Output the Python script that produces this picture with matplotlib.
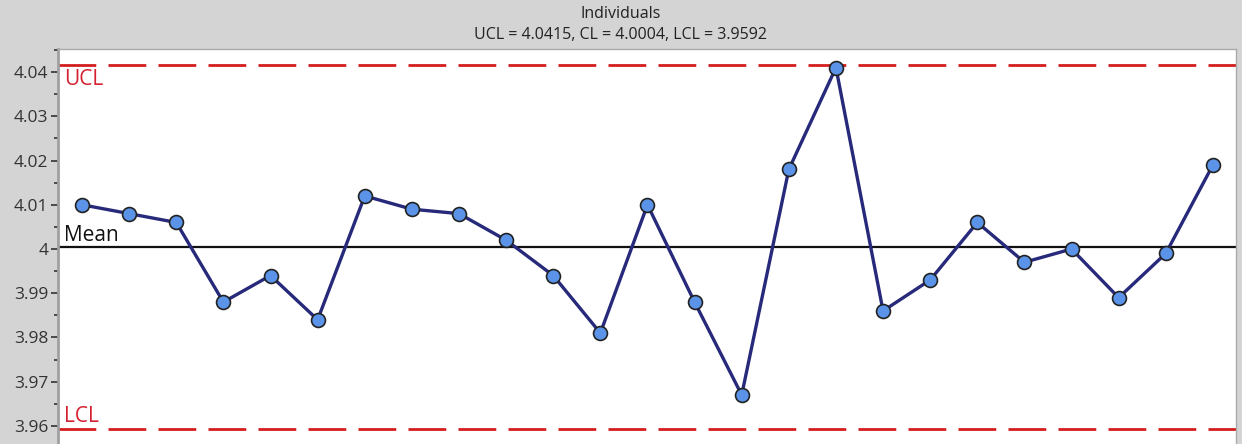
import numpy as np
import matplotlib.pyplot as plt
from matplotlib.ticker import MultipleLocator, FuncFormatter

# Individuals chart data
sample = list(range(1, 26))
values = [4.010, 4.008, 4.006, 3.988, 3.994, 3.984, 4.012, 4.009, 4.008, 4.002,
          3.994, 3.981, 4.010, 3.988, 3.967, 4.018, 4.041, 3.986, 3.993, 4.006,
          3.997, 4.000, 3.989, 3.999, 4.019]
ucl = 4.0415
cl = 4.0004
lcl = 3.9592

plt.rcParams['font.family'] = ['Open Sans', 'DejaVu Sans']

bg = '#d4d4d4'
fig = plt.figure(figsize=(12.42, 4.44), dpi=100, facecolor=bg)
ax = fig.add_axes([58 / 1242, -10 / 444, (1236 - 58) / 1242, (444 - 49 + 10) / 444])
ax.set_facecolor('white')

# control limits
ax.axhline(ucl, color='#d41e1e', lw=2.0, dashes=(13.6, 4.4))
ax.axhline(lcl, color='#d41e1e', lw=2.0, dashes=(13.6, 4.4))
ax.axhline(cl, color='#111111', lw=1.6)

ax.plot(sample, values, color='#27297a', lw=2.4, marker='o', markersize=10,
        markerfacecolor='#5b93e8', markeredgecolor='#222222', markeredgewidth=1.2,
        zorder=5)

ax.text(0.005, ucl - 0.0007, 'UCL', color='#d42030', fontsize=15,
        ha='left', va='top', transform=ax.get_yaxis_transform())
ax.text(0.005, cl + 0.0003, 'Mean', color='#111111', fontsize=15,
        ha='left', va='bottom', transform=ax.get_yaxis_transform())
ax.text(0.005, lcl + 0.0006, 'LCL', color='#d42030', fontsize=15,
        ha='left', va='bottom', transform=ax.get_yaxis_transform())

ax.set_xlim(0.49, 25.49)
ax.set_ylim(3.95365, 4.04522)

ax.yaxis.set_major_locator(MultipleLocator(0.01))
ax.yaxis.set_minor_locator(MultipleLocator(0.005))
ax.yaxis.set_major_formatter(FuncFormatter(lambda v, p: '%g' % round(v, 3)))
ax.tick_params(axis='y', which='major', length=5, width=1.2, color='#333333',
               labelsize=12.5, labelcolor='#333333', pad=2)
ax.tick_params(axis='y', which='minor', length=3, width=1.2, color='#333333')
ax.set_xticks([])

for side in ['top', 'right', 'bottom']:
    ax.spines[side].set_color('#aaaaaa')
    ax.spines[side].set_linewidth(1.0)
ax.spines['left'].set_color('#a0a0a0')
ax.spines['left'].set_linewidth(2.0)

fig.text(0.5, 1 - 14 / 444, 'Individuals', ha='center', va='center',
         fontsize=11.5, color='#222222')
fig.text(0.5, 1 - 35 / 444, 'UCL = 4.0415, CL = 4.0004, LCL = 3.9592',
         ha='center', va='center', fontsize=11.5, color='#222222')

fig.savefig('out.png', dpi=100, facecolor=bg)
